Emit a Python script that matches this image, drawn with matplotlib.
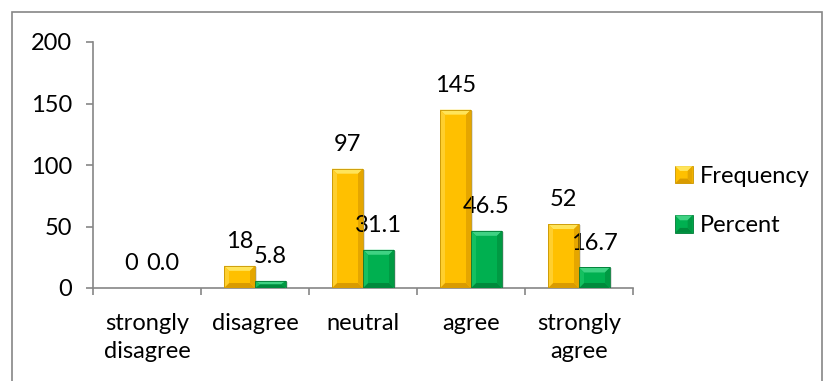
import matplotlib
matplotlib.use("Agg")
import matplotlib.pyplot as plt
from matplotlib.patches import Polygon, Rectangle
from matplotlib.legend_handler import HandlerBase
import numpy as np

categories = ["strongly\ndisagree", "disagree", "neutral", "agree", "strongly\nagree"]
frequency = [0, 18, 97, 145, 52]
percent = [0.0, 5.8, 31.1, 46.5, 16.7]
series_names = ["Frequency", "Percent"]

W, H, DPI = 823, 381, 100
FONT = "Lato"
FS = 17
GRAY = "#868686"

# face, top, left, right, bottom, outline
yellow = dict(face="#FFC000", top="#FFE45A", left="#FFCF2E", right="#E5A600",
              bottom="#D99B00", edge="#C89400")
green = dict(face="#00B050", top="#3FD283", left="#14C060", right="#009A43",
             bottom="#008A3C", edge="#007A35")

plt.rcParams["font.family"] = [FONT, "DejaVu Sans"]

fig = plt.figure(figsize=(W / DPI, H / DPI), dpi=DPI)
ax = fig.add_axes([93 / W, (H - 288) / H, 540 / W, 246 / H])
ax.set_xlim(-0.5, len(categories) - 0.5)
ax.set_ylim(0, 200)

px_x = 540 / len(categories)   # pixels per data unit (x)
px_y = 246 / 200               # pixels per data unit (y)


def bevel(ax, x0, w, y0, h, c, size=5):
    """Draw an Excel-like angled bevel on a bar rectangle."""
    if h <= 0:
        return
    bx = min(size / px_x, w / 2)
    by = min(size / px_y, h / 2)
    x1, y1 = x0 + w, y0 + h
    # soft shadow
    ax.add_patch(Rectangle((x0 + 2 / px_x, y0 - 1 / px_y), w, h, color="#000000",
                           alpha=0.12, lw=0, zorder=1.5))
    polys = [
        ([(x0, y1), (x1, y1), (x1 - bx, y1 - by), (x0 + bx, y1 - by)], c["top"]),
        ([(x0, y0), (x1, y0), (x1 - bx, y0 + by), (x0 + bx, y0 + by)], c["bottom"]),
        ([(x0, y0), (x0 + bx, y0 + by), (x0 + bx, y1 - by), (x0, y1)], c["left"]),
        ([(x1, y0), (x1 - bx, y0 + by), (x1 - bx, y1 - by), (x1, y1)], c["right"]),
    ]
    for pts, col in polys:
        ax.add_patch(Polygon(pts, closed=True, fc=col, ec="none", zorder=3))
    ax.add_patch(Rectangle((x0, y0), w, h, fill=False, ec=c["edge"], lw=0.6, zorder=4))


x = np.arange(len(categories))
bw = 31 / px_x
bars_f = ax.bar(x - bw / 2, frequency, bw, color=yellow["face"], lw=0, zorder=2)
bars_p = ax.bar(x + bw / 2, percent, bw, color=green["face"], lw=0, zorder=2)

for bars, col in ((bars_f, yellow), (bars_p, green)):
    for b in bars:
        bevel(ax, b.get_x(), b.get_width(), b.get_y(), b.get_height(), col)

for bars, vals, fmt in ((bars_f, frequency, "{:d}"), (bars_p, percent, "{:.1f}")):
    for b, v in zip(bars, vals):
        ax.annotate(fmt.format(v), (b.get_x() + b.get_width() / 2, v),
                    xytext=(0, 10), textcoords="offset points",
                    ha="center", va="bottom", fontsize=FS)

# axes styling
for s in ("top", "right"):
    ax.spines[s].set_visible(False)
for s in ("left", "bottom"):
    ax.spines[s].set_color(GRAY)
    ax.spines[s].set_linewidth(1.2)
ax.set_yticks([0, 50, 100, 150, 200])
ax.tick_params(axis="y", direction="out", length=5, color=GRAY, width=1.2,
               labelsize=FS, pad=10)
ax.set_xticks(np.arange(-0.5, len(categories)), minor=False)
ax.set_xticklabels([])
ax.tick_params(axis="x", direction="out", length=5, color=GRAY, width=1.2)
ax.set_xticks(x, minor=True)
ax.set_xticklabels(categories, minor=True, fontsize=FS, linespacing=1.42)
ax.tick_params(axis="x", which="minor", length=0, pad=18)


class BevelHandler(HandlerBase):
    def __init__(self, colors):
        super().__init__()
        self.colors = colors

    def create_artists(self, legend, orig, xd, yd, width, height, fontsize, trans):
        c = self.colors
        s = min(width, height)
        x0, y0 = -xd + (width - s) / 2, -yd + (height - s) / 2
        x1, y1 = x0 + s, y0 + s
        b = s * 0.28
        parts = [
            Rectangle((x0, y0), s, s, fc=c["face"], ec=c["edge"], lw=0.6),
            Polygon([(x0, y1), (x1, y1), (x1 - b, y1 - b), (x0 + b, y1 - b)], fc=c["top"], ec="none"),
            Polygon([(x0, y0), (x1, y0), (x1 - b, y0 + b), (x0 + b, y0 + b)], fc=c["bottom"], ec="none"),
            Polygon([(x1, y0), (x1 - b, y0 + b), (x1 - b, y1 - b), (x1, y1)], fc=c["right"], ec="none"),
        ]
        for p in parts:
            p.set_transform(trans)
        return parts


leg = ax.legend([bars_f, bars_p], series_names, frameon=False, fontsize=FS,
                handler_map={bars_f: BevelHandler(yellow), bars_p: BevelHandler(green)},
                loc="upper left", bbox_to_anchor=(675 / W, 1 - 166 / H),
                bbox_transform=fig.transFigure, handlelength=0.75, handleheight=0.75,
                handletextpad=0.3, labelspacing=1.2, borderaxespad=0, borderpad=0)

# chart area border
fig.add_artist(Rectangle((11.5 / W, -0.05), 810 / W, 1.05 - 12 / H,
                         transform=fig.transFigure, fill=False, ec=GRAY, lw=1.2))

fig.savefig("out.png", dpi=DPI)
